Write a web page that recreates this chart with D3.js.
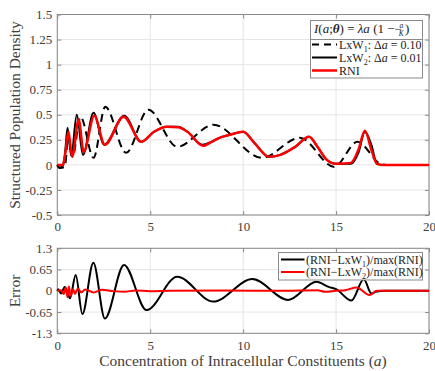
<!DOCTYPE html>
<html>
<head>
<meta charset="utf-8">
<script src="https://cdn.jsdelivr.net/npm/d3@7"></script>
<style>
  body { margin: 0; background: #fff; }
  svg text { font-family: "Liberation Serif", "Times New Roman", serif; }
</style>
</head>
<body>
<div id="chart"></div>
<script>
// Chart data
var aTicks = [0, 5, 10, 15, 20];
var densTicks = [-0.5, -0.25, 0, 0.25, 0.5, 0.75, 1, 1.25, 1.5];
var densTickLabels = ["-0.5", "-0.25", "0", "0.25", "0.5", "0.75", "1", "1.25", "1.5"];
var errTicks = [-1.3, -0.65, 0, 0.65, 1.3];
var errTickLabels = ["-1.3", "-0.65", "0", "0.65", "1.3"];

// LxW1 (dashed), delta a = 0.10
var lxw1 = [[0,0],[0.15,-0.03],[0.4,-0.02],[0.6,0.28],[0.82,0.08],[1.25,0.48],[1.95,0.07],
  [2.58,0.58],[3.7,0.12],[4.9,0.55],[6.45,0.18],[8.4,0.40],[11.0,0.07],[13.05,0.27],
  [14.9,-0.02],[16.15,0.23],[17.4,0.01],[17.7,0],[20,0]];
// LxW2 (solid black), delta a = 0.01
var lxw2 = [[0,0],[0.1,-0.03],[0.3,-0.01],[0.42,0.12],[0.55,0.37],[0.75,0.09],[1.05,0.50],
  [1.38,0.10],[1.95,0.52],[2.52,0.20],[3.6,0.49],[4.52,0.23],[5.2,0.33],[5.9,0.38],[6.5,0.38],
  [7.0,0.33],[7.8,0.20],[8.3,0.23],[8.6,0.26],[9.3,0.30],[10.0,0.33],[10.6,0.22],[11.4,0.08],
  [12.0,0.10],[12.8,0.18],[13.55,0.28],[14.0,0.18],[14.5,0.05],[15.0,0.01],[15.8,0.01],
  [16.2,0.12],[16.55,0.33],[16.9,0.2],[17.2,0.01],[17.5,0],[20,0]];
// RNI (red)
var rni = [[0,0],[0.3,0],[0.42,0.1],[0.6,0.33],[0.8,0.08],[1.15,0.45],[1.42,0.13],[1.99,0.49],
  [2.56,0.20],[3.57,0.48],[4.52,0.23],[5.2,0.33],[5.9,0.38],[6.5,0.375],[7.0,0.33],[7.85,0.19],
  [8.3,0.23],[8.6,0.26],[9.3,0.30],[10.0,0.33],[10.6,0.22],[11.4,0.08],[12.0,0.10],[12.8,0.18],
  [13.55,0.28],[14.0,0.18],[14.5,0.05],[15.0,0.01],[15.8,0.02],[16.2,0.15],[16.55,0.34],
  [16.9,0.15],[17.2,0.01],[17.5,0],[20,0]];

// (RNI-LxW1)/max(RNI)
var err1 = [[0,0],[0.05,0.05],[0.2,-0.08],[0.4,0.12],[0.55,-0.05],[0.68,-0.23],[0.99,0.48],
  [1.35,-0.71],[1.94,0.86],[2.56,-0.85],[3.59,0.79],[4.8,-0.59],[6.45,0.43],[8.39,-0.33],
  [10.5,0.36],[12.42,-0.28],[13.95,0.28],[14.6,0.12],[15.0,0.05],[15.83,-0.30],[16.49,0.35],
  [16.9,-0.08],[17.2,-0.02],[17.6,0],[20,0]];
// (RNI-LxW2)/max(RNI)
var err2 = [[0,0],[0.2,0.02],[0.35,-0.1],[0.45,0.1],[0.55,-0.2],[0.62,0.13],[0.72,-0.15],
  [0.85,0.05],[0.95,-0.1],[1.1,0.06],[1.3,-0.05],[1.5,0.04],[1.95,-0.05],[2.4,0.03],[3.0,-0.01],
  [3.6,-0.03],[4.2,0.01],[5.0,-0.01],[6.0,0],[9.0,0.01],[12.0,0],[14.0,0.02],[14.4,-0.03],
  [15.0,0],[15.5,0.02],[16.1,0.1],[16.8,-0.13],[17.2,0],[20,0]];

var svgWidth = 435;
var svgHeight = 371;

var svg = d3.select("#chart")
  .append("svg")
  .attr("width", svgWidth)
  .attr("height", svgHeight);

var xScale = d3.scaleLinear().domain([0, 20]).range([57.3, 429]);
var yTop = d3.scaleLinear().domain([-0.5, 1.5]).range([215, 14.5]);
var yBot = d3.scaleLinear().domain([-1.3, 1.3]).range([333.3, 248.3]);

var axisColor = "#8a8a8a";
var textColor = "#404040";

function drawPanel(yScale, yTicks, yLabels) {
  var top = yScale.range()[1], bottom = yScale.range()[0];
  var left = xScale.range()[0], right = xScale.range()[1];
  var g = svg.append("g");

  // grid
  g.selectAll(".gx").data(aTicks).enter().append("line")
    .attr("x1", d => xScale(d)).attr("x2", d => xScale(d))
    .attr("y1", top).attr("y2", bottom)
    .attr("stroke", "#e4e4e4").attr("stroke-width", 1);
  g.selectAll(".gy").data(yTicks).enter().append("line")
    .attr("y1", d => yScale(d)).attr("y2", d => yScale(d))
    .attr("x1", left).attr("x2", right)
    .attr("stroke", "#e4e4e4").attr("stroke-width", 1);

  // axes with inward ticks
  var yAxis = d3.axisLeft(yScale).tickValues(yTicks)
    .tickFormat((d, i) => yLabels[i]).tickSize(-4).tickPadding(5);
  var yAxisR = d3.axisRight(yScale).tickValues(yTicks).tickFormat("").tickSize(-4);
  var xAxis = d3.axisBottom(xScale).tickValues(aTicks).tickSize(-4).tickPadding(7);
  var xAxisT = d3.axisTop(xScale).tickValues(aTicks).tickFormat("").tickSize(-4);

  var ga = g.append("g").attr("transform", `translate(${left},0)`).call(yAxis);
  var gr = g.append("g").attr("transform", `translate(${right},0)`).call(yAxisR);
  var gb = g.append("g").attr("transform", `translate(0,${bottom})`).call(xAxis);
  var gt = g.append("g").attr("transform", `translate(0,${top})`).call(xAxisT);
  [ga, gr, gb, gt].forEach(function(s) {
    s.select(".domain").remove();
    s.selectAll(".tick line").attr("stroke", axisColor);
    s.selectAll(".tick text").attr("fill", textColor)
      .style("font-family", "'Liberation Serif', serif").style("font-size", "13px");
  });

  g.append("rect")
    .attr("x", left).attr("y", top)
    .attr("width", right - left).attr("height", bottom - top)
    .attr("fill", "none").attr("stroke", axisColor).attr("stroke-width", 1);
  return g;
}

var lineTop = d3.line().x(d => xScale(d[0])).y(d => yTop(d[1])).curve(d3.curveMonotoneX);
var lineBot = d3.line().x(d => xScale(d[0])).y(d => yBot(d[1])).curve(d3.curveMonotoneX);

// Top panel
var gTop = drawPanel(yTop, densTicks, densTickLabels);
gTop.append("path").datum(lxw1).attr("d", lineTop)
  .attr("fill", "none").attr("stroke", "#000").attr("stroke-width", 2)
  .attr("stroke-dasharray", "8,5");
gTop.append("path").datum(lxw2).attr("d", lineTop)
  .attr("fill", "none").attr("stroke", "#000").attr("stroke-width", 2);
gTop.append("path").datum(rni).attr("d", lineTop)
  .attr("fill", "none").attr("stroke", "#ff0000").attr("stroke-width", 2.5);

// Bottom panel
var gBot = drawPanel(yBot, errTicks, errTickLabels);
gBot.append("path").datum(err1).attr("d", lineBot)
  .attr("fill", "none").attr("stroke", "#000").attr("stroke-width", 2);
gBot.append("path").datum(err2).attr("d", lineBot)
  .attr("fill", "none").attr("stroke", "#ff0000").attr("stroke-width", 2);

// Axis titles
svg.append("text")
  .attr("transform", "translate(20,115) rotate(-90)")
  .attr("text-anchor", "middle")
  .attr("fill", textColor).style("font-size", "15.5px")
  .text("Structured Population Density");
svg.append("text")
  .attr("transform", "translate(20,291) rotate(-90)")
  .attr("text-anchor", "middle")
  .attr("fill", textColor).style("font-size", "15.5px")
  .text("Error");
var xl = svg.append("text")
  .attr("x", 243).attr("y", 366)
  .attr("text-anchor", "middle")
  .attr("fill", textColor).style("font-size", "15.5px");
xl.append("tspan").text("Concentration of Intracellular Constituents (");
xl.append("tspan").style("font-style", "italic").text("a");
xl.append("tspan").text(")");

// Top legend
var lg = svg.append("g");
lg.append("rect").attr("x", 310.5).attr("y", 20.5).attr("width", 112).attr("height", 57.5)
  .attr("fill", "#fff").attr("stroke", axisColor).attr("stroke-width", 1);
lg.append("line").attr("x1", 310.5).attr("x2", 422.5).attr("y1", 39.5).attr("y2", 39.5)
  .attr("stroke", axisColor).attr("stroke-width", 1);

// legend title: I(a;θ) = λa (1 − a/K), fraction kept inside the same text element
var title = lg.append("text").attr("x", 314).attr("y", 32.5)
  .attr("fill", "#222").style("font-size", "13px");
title.append("tspan").style("font-style", "italic").text("I");
title.append("tspan").text("(");
title.append("tspan").style("font-style", "italic").text("a");
title.append("tspan").text(";");
title.append("tspan").style("font-style", "italic").style("font-weight", "bold").text("θ");
title.append("tspan").text(") = ");
title.append("tspan").style("font-style", "italic").text("λa");
title.append("tspan").text(" (1 − ");
var tw = title.node().getComputedTextLength();
title.append("tspan").attr("dx", 1.6).attr("dy", -5)
  .style("font-size", "7.5px").style("font-style", "italic").text("a");
title.append("tspan").attr("dx", -4.4).attr("dy", 8.5)
  .style("font-size", "7.5px").style("font-style", "italic").text("K");
title.append("tspan").attr("dx", 1.2).attr("dy", -3.5).text(")");
lg.append("line").attr("x1", 314 + tw + 0.5).attr("x2", 314 + tw + 6.8)
  .attr("y1", 29.4).attr("y2", 29.4)
  .attr("stroke", "#222").attr("stroke-width", 0.6);

var topItems = [
  {name: "LxW", sub: "1", rest: ": Δ", it: "a", tail: " = 0.10", color: "#000", dash: "7,5", y: 44.5},
  {name: "LxW", sub: "2", rest: ": Δ", it: "a", tail: " = 0.01", color: "#000", dash: null, y: 57.5},
  {name: "RNI", sub: "", rest: "", it: "", tail: "", color: "#ff0000", dash: null, y: 70.5}
];
topItems.forEach(function(it) {
  lg.append("line").attr("x1", 312).attr("x2", 337).attr("y1", it.y).attr("y2", it.y)
    .attr("stroke", it.color).attr("stroke-width", it.color === "#000" ? 2 : 2.5)
    .attr("stroke-dasharray", it.dash);
  var t = lg.append("text").attr("x", 339).attr("y", it.y + 4)
    .attr("fill", "#222").style("font-size", "12px");
  t.append("tspan").text(it.name);
  if (it.sub) {
    t.append("tspan").attr("dy", 3).style("font-size", "8px").text(it.sub);
    t.append("tspan").attr("dy", -3).text(it.rest);
    t.append("tspan").style("font-style", "italic").text(it.it);
    t.append("tspan").text(it.tail);
  }
});

// Bottom legend
var lb = svg.append("g");
lb.append("rect").attr("x", 278.5).attr("y", 252.5).attr("width", 144).attr("height", 27.5)
  .attr("fill", "#fff").attr("stroke", axisColor).attr("stroke-width", 1);
var botItems = [
  {sub: "1", color: "#000", y: 259.5},
  {sub: "2", color: "#ff0000", y: 272}
];
botItems.forEach(function(it) {
  lb.append("line").attr("x1", 281).attr("x2", 304.5).attr("y1", it.y).attr("y2", it.y)
    .attr("stroke", it.color).attr("stroke-width", 2);
  var t = lb.append("text").attr("x", 306).attr("y", it.y + 4)
    .attr("fill", "#222").style("font-size", "12px");
  t.append("tspan").text("(RNI−LxW");
  t.append("tspan").attr("dy", 3).style("font-size", "8px").text(it.sub);
  t.append("tspan").attr("dy", -3).text(")/max(RNI)");
});
</script>
</body>
</html>
